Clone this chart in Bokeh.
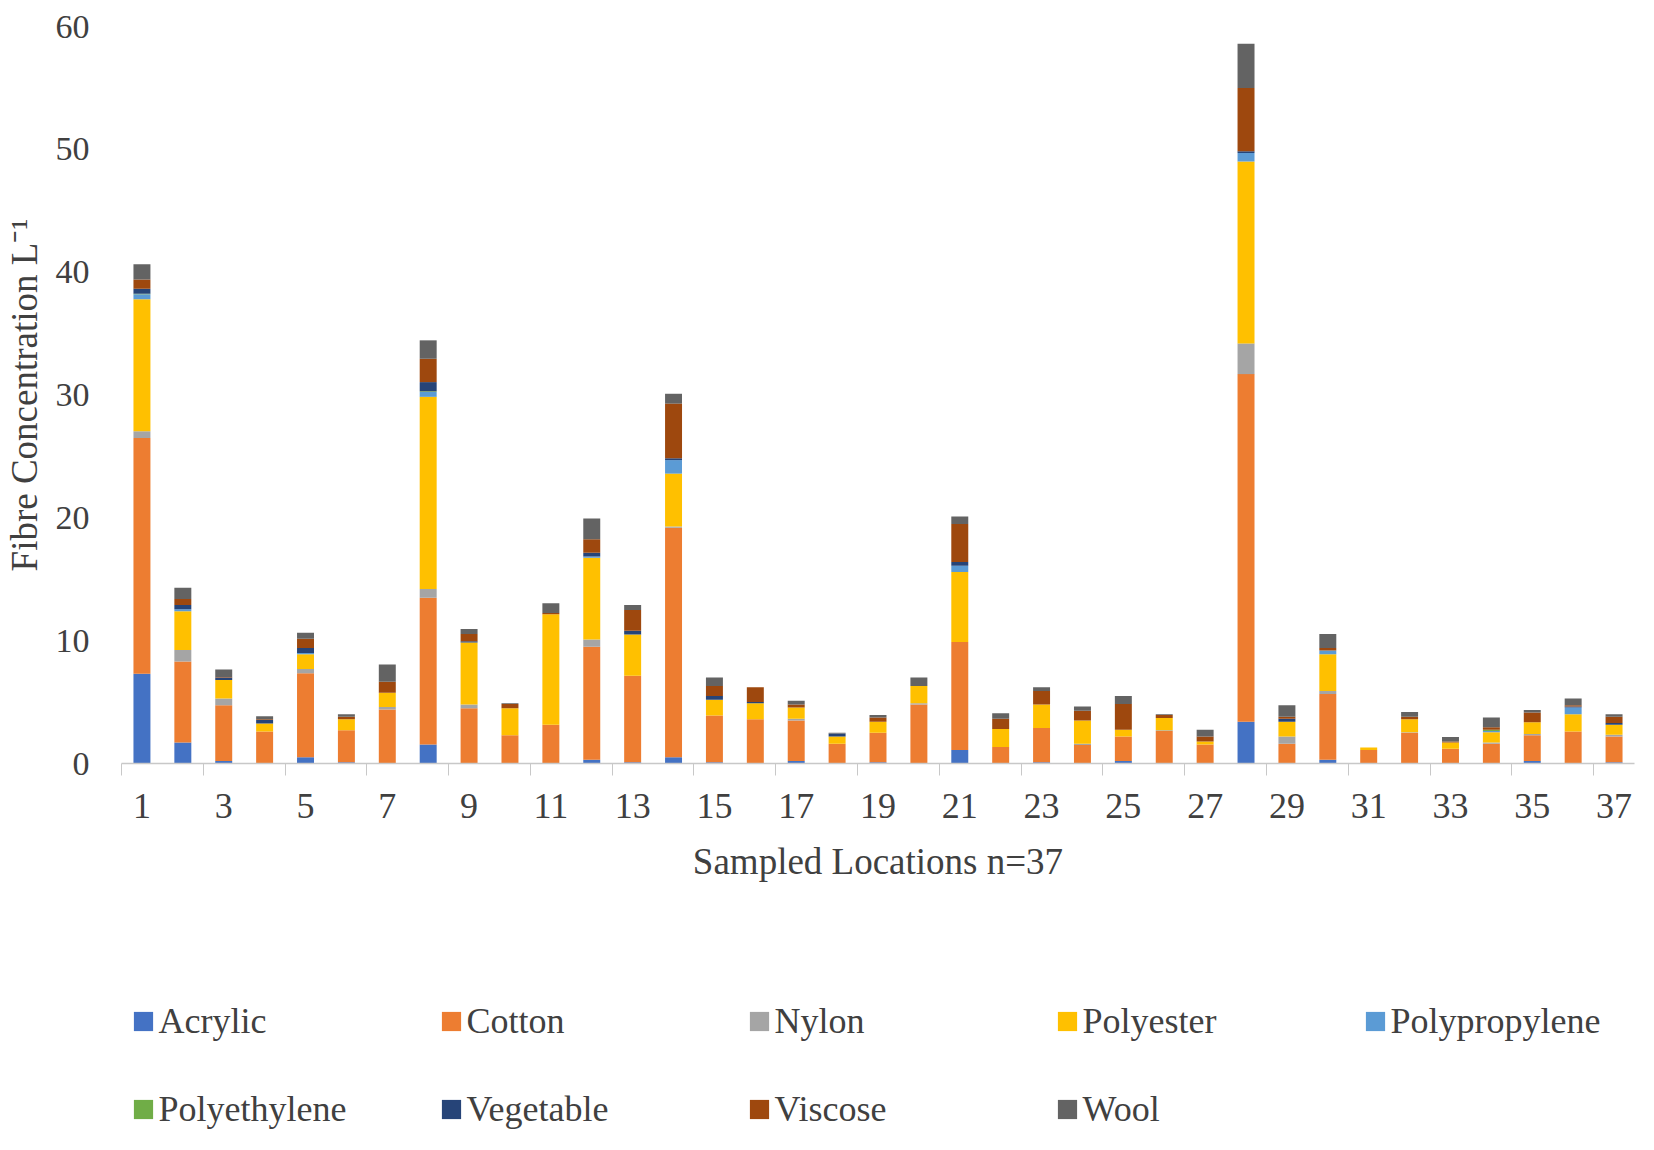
from bokeh.plotting import figure
from bokeh.layouts import column
from bokeh.models import ColumnDataSource, Range1d, FixedTicker, Legend, LegendItem
from bokeh.embed import file_html
from bokeh.resources import INLINE

locations = list(range(1, 38))
series = ["Acrylic", "Cotton", "Nylon", "Polyester", "Polypropylene",
          "Polyethylene", "Vegetable", "Viscose", "Wool"]
colors = ["#4472C4", "#ED7D31", "#A5A5A5", "#FFC000", "#5B9BD5",
          "#70AD47", "#264478", "#9E480E", "#636363"]

acrylic = [7.3, 1.7, 0.2, 0, 0.5, 0.1, 0, 1.55, 0.05, 0, 0, 0.3, 0.1, 0.5, 0.1, 0, 0.2, 0, 0.1,
           0, 1.1, 0, 0.1, 0, 0.2, 0, 0, 3.4, 0.05, 0.3, 0, 0, 0, 0, 0.2, 0, 0.1]
cotton = [19.2, 6.6, 4.55, 2.6, 6.85, 2.6, 4.4, 11.95, 4.45, 2.3, 3.15, 9.2, 7.05, 18.7, 3.8, 3.6,
          3.3, 1.6, 2.4, 4.8, 8.8, 1.35, 2.8, 1.5, 2.0, 2.65, 1.55, 28.3, 1.55, 5.35, 1.1, 2.5,
          1.2, 1.6, 2.1, 2.6, 2.1]
nylon = [0.55, 0.95, 0.55, 0, 0.35, 0, 0.2, 0.7, 0.3, 0, 0, 0.6, 0, 0.1, 0, 0, 0.15, 0, 0,
         0.1, 0, 0, 0, 0.1, 0, 0.05, 0, 2.5, 0.6, 0.25, 0, 0.05, 0, 0.1, 0.1, 0, 0.15]
polyester = [10.75, 3.15, 1.5, 0.65, 1.2, 0.9, 1.15, 15.65, 5.05, 2.2, 9.0, 6.65, 3.35, 4.3, 1.3,
             1.3, 0.9, 0.6, 0.9, 1.4, 5.7, 1.45, 1.9, 1.9, 0.55, 1.0, 0.25, 14.8, 1.2, 3.0, 0.2,
             1.05, 0.5, 0.85, 0.95, 1.4, 0.8]
polypropylene = [0.4, 0.15, 0, 0, 0.1, 0, 0, 0.4, 0, 0, 0, 0.1, 0, 1.1, 0, 0, 0, 0, 0, 0, 0.5,
                 0, 0, 0, 0, 0, 0, 0.7, 0, 0.3, 0, 0, 0, 0.1, 0, 0.55, 0]
polyethylene = [0.05, 0, 0, 0, 0, 0, 0, 0.05, 0, 0, 0, 0, 0, 0, 0, 0, 0, 0, 0, 0, 0, 0, 0, 0,
                0, 0, 0, 0, 0, 0, 0, 0, 0, 0.1, 0, 0, 0]
vegetable = [0.4, 0.35, 0.2, 0.3, 0.4, 0, 0, 0.75, 0.1, 0, 0, 0.3, 0.3, 0.15, 0.3, 0.1, 0, 0.25,
             0, 0, 0.3, 0, 0, 0, 0, 0, 0, 0.15, 0.25, 0, 0, 0, 0, 0, 0, 0.1, 0.15]
viscose = [0.75, 0.5, 0.05, 0.05, 0.75, 0.2, 0.9, 1.9, 0.6, 0.35, 0.1, 1.1, 1.7, 4.45, 0.8, 1.2,
           0.25, 0, 0.35, 0, 3.1, 0.85, 1.1, 0.8, 2.1, 0.25, 0.4, 5.15, 0.15, 0.2, 0, 0.2, 0.1,
           0.2, 0.8, 0.1, 0.5]
wool = [1.25, 0.9, 0.6, 0.25, 0.5, 0.2, 1.4, 1.5, 0.4, 0.05, 0.8, 1.7, 0.4, 0.8, 0.7, 0, 0.3,
        0.05, 0.2, 0.7, 0.6, 0.45, 0.3, 0.35, 0.65, 0.05, 0.55, 3.6, 0.95, 1.15, 0, 0.4, 0.35,
        0.8, 0.2, 0.55, 0.2]

y_ticks = [0, 10, 20, 30, 40, 50, 60]
x_labels = list(range(1, 38, 2))

source = ColumnDataSource(dict(
    x=locations, Acrylic=acrylic, Cotton=cotton, Nylon=nylon, Polyester=polyester,
    Polypropylene=polypropylene, Polyethylene=polyethylene, Vegetable=vegetable,
    Viscose=viscose, Wool=wool))

FONT = "Liberation Serif"
TXT = "#404040"

# ---------------- main chart ----------------
p = figure(width=1636, height=888, output_backend="svg", toolbar_location=None,
           x_range=Range1d(0.5, 37.5), y_range=Range1d(0, 60),
           min_border_left=116, min_border_right=2, min_border_top=26,
           min_border_bottom=125)
p.background_fill_color = "white"
p.border_fill_color = "white"
p.outline_line_color = None
p.grid.visible = False

rs = p.vbar_stack(series, x="x", width=0.415, fill_color=colors, line_color=None, source=source)

xa = p.xaxis[0]
xa.ticker = FixedTicker(ticks=x_labels, minor_ticks=[0.5 + 2 * k for k in range(19)])
xa.major_tick_line_color = None
xa.major_tick_out = 0
xa.major_tick_in = 0
xa.minor_tick_line_color = "#C8C8C8"
xa.minor_tick_in = 0
xa.minor_tick_out = 12
xa.axis_line_color = "#C8C8C8"
xa.axis_line_width = 1.5
xa.major_label_text_font = FONT
xa.major_label_text_font_size = "36px"
xa.major_label_text_color = TXT
xa.major_label_standoff = 18
xa.axis_label = "Sampled Locations n=37"
xa.axis_label_text_font = FONT
xa.axis_label_text_font_size = "37px"
xa.axis_label_text_font_style = "normal"
xa.axis_label_text_color = TXT
xa.axis_label_standoff = 20

ya = p.yaxis[0]
ya.ticker = FixedTicker(ticks=y_ticks)
ya.axis_line_color = None
ya.major_tick_line_color = None
ya.major_tick_out = 0
ya.major_tick_in = 0
ya.minor_tick_line_color = None
ya.minor_tick_out = 0
ya.major_label_text_font = FONT
ya.major_label_text_font_size = "34px"
ya.major_label_text_color = TXT
ya.major_label_standoff = 32
ya.axis_label = "Fibre Concentration L\u207b\u00b9"
ya.axis_label_text_font = FONT
ya.axis_label_text_font_size = "37px"
ya.axis_label_text_font_style = "normal"
ya.axis_label_text_color = TXT
ya.axis_label_standoff = 8

# ---------------- legend strip ----------------
# same stacked series, drawn outside this strip's visible range: only the legend shows
lg = figure(width=1636, height=246, output_backend="svg", toolbar_location=None,
            x_range=Range1d(0, 1), y_range=Range1d(1000, 1001),
            x_axis_location=None, y_axis_location=None, min_border=0)
lg.outline_line_color = None
lg.grid.visible = False
lg.background_fill_color = "white"
lg.border_fill_color = "white"
lrs = lg.vbar_stack(series, x="x", width=0.415, fill_color=colors, line_color=None,
                    source=source)

items = [LegendItem(label=n, renderers=[r]) for n, r in zip(series, lrs)]
legend = Legend(items=items, orientation="horizontal", ncols=5, nrows=2,
                location=(9.6, 4),
                glyph_width=24, glyph_height=24, label_standoff=4, label_width=234,
                spacing=46, padding=0, margin=0,
                label_text_font=FONT, label_text_font_size="36px", label_text_color=TXT,
                border_line_color=None, background_fill_alpha=0)
lg.add_layout(legend)

layout = column(p, lg, spacing=0)
open("out.html", "w").write(file_html(layout, INLINE))
